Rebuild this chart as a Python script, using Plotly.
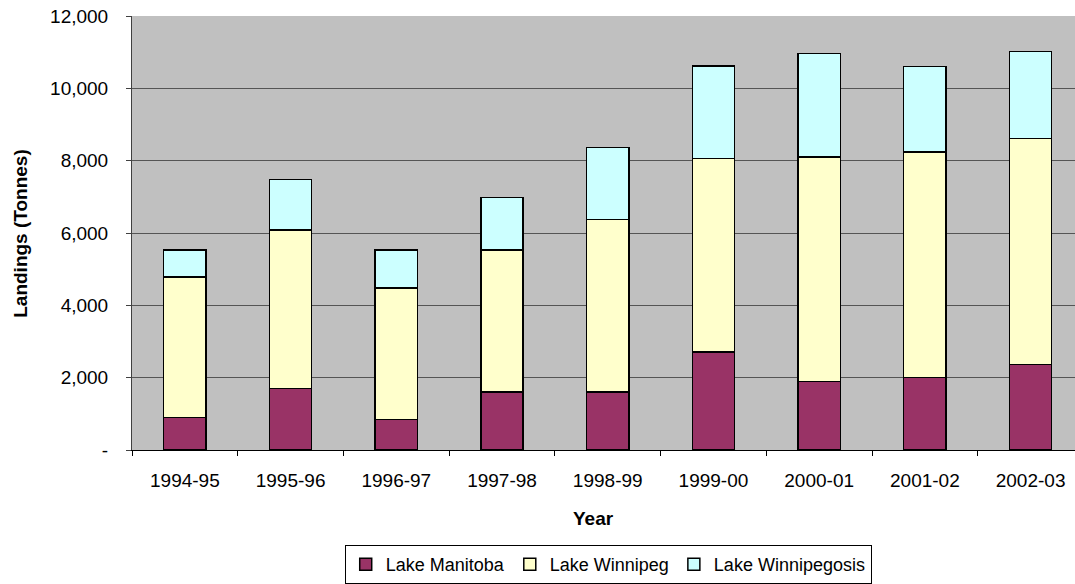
import plotly.graph_objects as go

years = ['1994-95', '1995-96', '1996-97', '1997-98', '1998-99',
         '1999-00', '2000-01', '2001-02', '2002-03']
lake_manitoba = [900, 1700, 850, 1600, 1600, 2710, 1900, 2010, 2360]
lake_winnipeg = [3880, 4380, 3630, 3930, 4780, 5350, 6200, 6230, 6250]
lake_winnipegosis = [750, 1400, 1050, 1450, 1980, 2560, 2870, 2370, 2410]

y_ticks = [0, 2000, 4000, 6000, 8000, 10000, 12000]
y_tick_labels = ['-', '2,000', '4,000', '6,000', '8,000', '10,000', '12,000']

series = [
    ('Lake Manitoba', lake_manitoba, '#993366'),
    ('Lake Winnipeg', lake_winnipeg, '#FFFFCC'),
    ('Lake Winnipegosis', lake_winnipegosis, '#CCFFFF'),
]

fig = go.Figure()
for name, vals, col in series:
    fig.add_trace(go.Bar(
        x=years, y=vals, name=name,
        marker=dict(color=col, line=dict(color='black', width=1.5))
    ))

fig.update_layout(
    barmode='stack',
    bargap=0.6,
    width=1075, height=584,
    margin=dict(l=132, r=0, t=16, b=134),
    plot_bgcolor='#C0C0C0',
    paper_bgcolor='white',
    font=dict(family='Liberation Sans, Arial, sans-serif', size=19, color='black'),
    showlegend=True,
    legend=dict(
        orientation='h',
        x=0.505, xanchor='center',
        y=-0.219, yanchor='top',
        bordercolor='black', borderwidth=1,
        bgcolor='white',
        font=dict(size=18),
        traceorder='normal',
        itemwidth=30,
    ),
    xaxis=dict(
        type='category',
        range=[-0.5, 8.42],
        showline=True, linecolor='black', linewidth=1,
        ticks='outside', ticklen=5, tickcolor='black',
        tickson='boundaries',
        showgrid=False,
        ticklabelstandoff=13,
        automargin=False,
    ),
    yaxis=dict(
        range=[0, 12000],
        tickvals=y_ticks, ticktext=y_tick_labels,
        showline=True, linecolor='#404040', linewidth=1,
        ticks='outside', ticklen=5, tickcolor='#404040',
        showgrid=True, gridcolor='#555555', gridwidth=1,
        zeroline=False,
        ticklabelstandoff=14,
        automargin=False,
    ),
    annotations=[
        dict(text='<b>Landings (Tonnes)</b>', xref='paper', yref='paper',
             x=-0.119, y=0.5, textangle=-90, showarrow=False,
             xanchor='center', yanchor='middle', font=dict(size=19)),
        dict(text='<b>Year</b>', xref='paper', yref='paper',
             x=0.489, y=-0.157, showarrow=False,
             xanchor='center', yanchor='middle', font=dict(size=19)),
    ],
)

fig.write_html('out.html', config={'displayModeBar': False},
               post_script="document.body.style.margin='0';")
